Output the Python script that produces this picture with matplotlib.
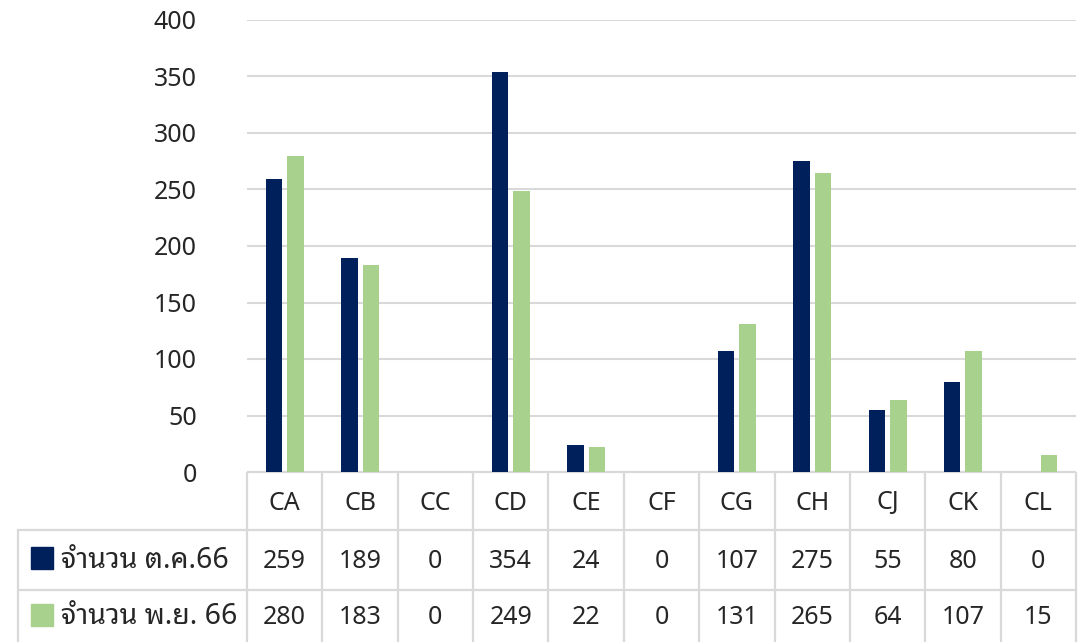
import numpy as np
import matplotlib
matplotlib.use("Agg")
import matplotlib.pyplot as plt
import matplotlib.transforms as mtransforms

plt.rcParams['font.family'] = ['Noto Sans', 'Noto Sans Thai Looped', 'Noto Sans Thai', 'DejaVu Sans']

# ---- data ----
categories = ["CA", "CB", "CC", "CD", "CE", "CF", "CG", "CH", "CJ", "CK", "CL"]
oct66 = [259, 189, 0, 354, 24, 0, 107, 275, 55, 80, 0]
nov66 = [280, 183, 0, 249, 22, 0, 131, 265, 64, 107, 15]
series_names = ["จำนวน ต.ค.66", "จำนวน พ.ย. 66"]
colors = ["#00205B", "#A9D18E"]
grid_c = "#D9D9D9"

W, H = 1089, 642
fig = plt.figure(figsize=(W / 100, H / 100), dpi=100)

# axes placed in pixel terms
left_px, right_px, top_px, bot_px = 247, 1076, 20, 472
ax = fig.add_axes([left_px / W, 1 - bot_px / H, (right_px - left_px) / W, (bot_px - top_px) / H])

x = np.arange(len(categories))
ax.bar(x - 0.143, oct66, 0.22, color=colors[0], zorder=3)
ax.bar(x + 0.143, nov66, 0.22, color=colors[1], zorder=3)

ax.set_xlim(-0.5, len(categories) - 0.5)
ax.set_ylim(0, 400)
ax.set_yticks(np.arange(0, 401, 50))
ax.set_xticks([])
ax.tick_params(axis='y', length=0, pad=36, labelsize=18, labelcolor="#262626")
ax.grid(axis='y', color=grid_c, lw=1.5, zorder=0)
for s in ax.spines.values():
    s.set_visible(False)

# ---- data table under the chart ----
tr = mtransforms.blended_transform_factory(ax.transData, fig.transFigure)
def fy(py):
    return 1 - py / H

line_kw = dict(color=grid_c, lw=1.6, clip_on=False, solid_capstyle='butt')

# top border of header row
ax.plot([-0.5, len(categories) - 0.5], [fy(472)] * 2, transform=tr, **line_kw)
# column separators
for b in np.arange(-0.5, len(categories)):
    ax.plot([b, b], [fy(472), fy(H + 5)], transform=tr, **line_kw)
# row separators spanning the label column too
for py in (530, 590):
    fig.add_artist(plt.Line2D([18 / W, right_px / W], [fy(py)] * 2, transform=fig.transFigure,
                              color=grid_c, lw=1.6))
fig.add_artist(plt.Line2D([18 / W] * 2, [fy(530), fy(H + 5)], transform=fig.transFigure,
                          color=grid_c, lw=1.6))

txt_c = "#262626"
for i, c in enumerate(categories):
    ax.text(i, fy(503), c, transform=tr, ha='center', va='center', fontsize=18, color=txt_c)
    ax.text(i, fy(561), str(oct66[i]), transform=tr, ha='center', va='center', fontsize=18, color=txt_c)
    ax.text(i, fy(618), str(nov66[i]), transform=tr, ha='center', va='center', fontsize=18, color=txt_c)

# legend keys inside the label column
for name, col, py in zip(series_names, colors, (558, 615)):
    fig.add_artist(plt.Rectangle((31 / W, fy(py + 11)), 22 / W, 22 / H,
                                 transform=fig.transFigure, color=col))
    fig.text(61 / W, fy(py + 2), name, ha='left', va='center', fontsize=20.5, color=txt_c)

fig.savefig("out.png", dpi=100)
